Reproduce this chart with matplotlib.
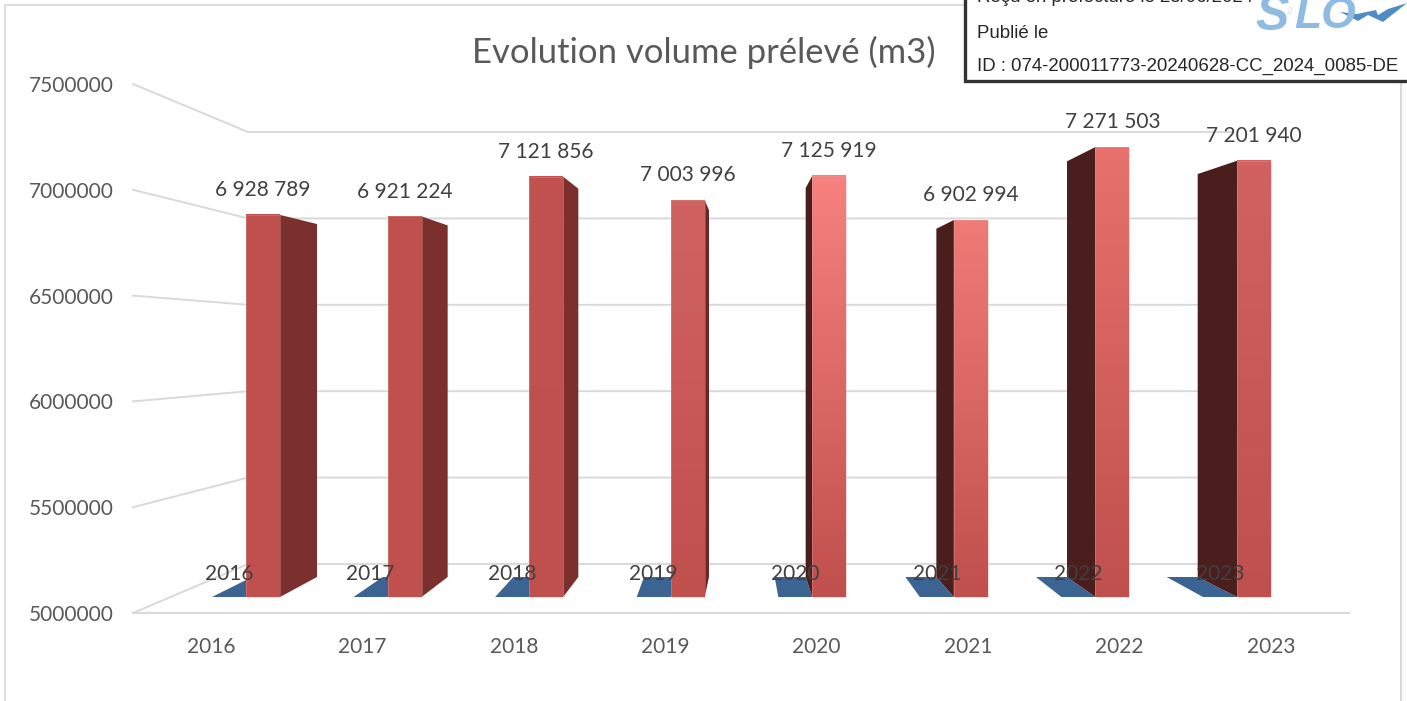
import matplotlib
matplotlib.use("Agg")
import matplotlib.pyplot as plt
import numpy as np
from matplotlib.colors import LinearSegmentedColormap
from matplotlib.patches import Polygon, Rectangle

years = ["2016", "2017", "2018", "2019", "2020", "2021", "2022", "2023"]
volumes = [6928789, 6921224, 7121856, 7003996, 7125919, 6902994, 7271503, 7201940]
y_ticks = [5000000, 5500000, 6000000, 6500000, 7000000, 7500000]

title = "Evolution volume prélevé (m3)"
stamp_lines = ["Reçu en préfecture le 28/06/2024", "Publié le",
               "ID : 074-200011773-20240628-CC_2024_0085-DE"]

# shading of each bar
top_colors = ["#C0504D", "#C0504D", "#C2524F", "#D0625F", "#F6817E", "#EF7B77", "#E6716D", "#D2625F"]
side_colors = ["#7B302E", "#7B302E", "#7B302E", "#66282A", "#4A1E1C", "#4A1E1C", "#4A1E1C", "#4A1E1C"]
BOTTOM_COLOR = "#C0504D"
BLUE = "#3B6493"
GRID = "#D9D9D9"
TXT = "#595959"
LBL = "#404040"

W, H = 1407, 701
# bar plane in pixels
STEP = 141.57
X0 = 246.0
BASE_Y = 597.0
PX_PER_UNIT = 198.1e-6
BAR_W = 34 / STEP
BACK_W = 31 / STEP
BACK_LIFT = 20 / PX_PER_UNIT      # back of the bars sits 20 px up on the floor
BACK_SCALE = 183.0 / 198.1        # and is a little shorter


def depth(i):
    # the side faces swing from right to left across the chart
    return (37 - 10.9 * i) / STEP


fig = plt.figure(figsize=(W / 100, H / 100), dpi=100, facecolor="white")
plt.rcParams["font.family"] = ["Lato", "DejaVu Sans"]

# pixel layer for walls and frame
bg = fig.add_axes([0, 0, 1, 1], zorder=0)
bg.set_xlim(0, W)
bg.set_ylim(H, 0)
bg.axis("off")
bg.plot([5, 5, 965], [H, 5, 5], color=GRID, lw=1.3)
bg.plot([1401, 1401], [80, H], color=GRID, lw=1.5)

for t in y_ticks:
    k = (t - y_ticks[0]) / (y_ticks[-1] - y_ticks[0])
    front_y = 613 - 529 * k
    back_y = 564 - 432 * k
    bg.plot([133, 248, 1232], [front_y, back_y, back_y], color=GRID, lw=1.4, solid_joinstyle="miter")

bg.text(703.5, 52, title, ha="center", va="center", fontsize=24.95, color=TXT)

# front plane: carries the tick labels
front = fig.add_axes([133 / W, 1 - 613 / H, (1349 - 133) / W, 529 / H], zorder=1)
front.patch.set_alpha(0)
front.set_xlim((133 - 211) / 151.4, (1349 - 211) / 151.4)
front.set_ylim(y_ticks[0], y_ticks[-1])
front.set_xticks(range(len(years)), years)
front.set_yticks(y_ticks, [str(t) for t in y_ticks])
front.tick_params(axis="both", length=0, labelsize=15, labelcolor=TXT)
front.tick_params(axis="x", pad=17.5)
front.tick_params(axis="y", pad=14)
for name, sp in front.spines.items():
    sp.set_visible(name == "bottom")
front.spines["bottom"].set_color(GRID)
front.spines["bottom"].set_linewidth(1.5)

# bar plane
ax = fig.add_axes([0, 0, 1, 1], zorder=2)
ax.patch.set_alpha(0)
ax.axis("off")

for i, v in enumerate(volumes):
    d = depth(i)
    back_base = y_ticks[0] + BACK_LIFT
    back_top = y_ticks[0] + BACK_LIFT + (v - y_ticks[0]) * BACK_SCALE

    # flat blue series
    ax.add_patch(Polygon([(i - BAR_W, y_ticks[0]), (i, y_ticks[0]), (i + d, back_base), (i - BACK_W + d, back_base)],
                         facecolor=BLUE, edgecolor="none", zorder=2))

    # side face, on whichever side the depth goes
    edge = i + BAR_W if d > 0 else i
    ax.add_patch(Polygon([(edge, y_ticks[0]), (edge, v), (edge + d, back_top), (edge + d, back_base)],
                         facecolor=side_colors[i], edgecolor="none", zorder=3))

    # front face with its gradient
    cmap = LinearSegmentedColormap.from_list("f", [BOTTOM_COLOR, top_colors[i]])
    ax.imshow(np.linspace(1, 0, 64).reshape(-1, 1), cmap=cmap, vmin=0, vmax=1, aspect="auto",
              extent=(i, i + BAR_W, y_ticks[0], v), zorder=4)
    ax.add_patch(Rectangle((i, y_ticks[0]), BAR_W, v - y_ticks[0], fill=False,
                           edgecolor="#E3A09D", lw=0.4, alpha=0.6, zorder=5))

    ax.annotate(f"{v:,}".replace(",", " "), (i + BAR_W / 2, v), xytext=(0, 17.8), textcoords="offset points",
                ha="center", va="center", fontsize=15, color=LBL, zorder=7)
    ax.annotate(years[i], (i - BAR_W / 2, y_ticks[0]), xytext=(0, 16.6), textcoords="offset points",
                ha="center", va="center", fontsize=15, color=LBL, zorder=7)

ax.set_xlim(-X0 / STEP, (W - X0) / STEP)
ax.set_ylim(y_ticks[0] - (H - BASE_Y) / PX_PER_UNIT, y_ticks[0] + BASE_Y / PX_PER_UNIT)

# stamp box in the corner
top = fig.add_axes([0, 0, 1, 1], zorder=3)
top.patch.set_alpha(0)
top.set_xlim(0, W)
top.set_ylim(H, 0)
top.axis("off")
top.add_patch(Rectangle((965, -10), 460, 91, facecolor="white", edgecolor="#333333", lw=2.4))
for txt, y in zip(stamp_lines, [-3, 33, 66]):
    top.text(977, y, txt, ha="left", va="center", fontsize=13.45, color="#262626", family="Liberation Sans")

# S2LOW logo, the W is the swoosh
logo = dict(va="center", color="#8FBBE3", family="Liberation Sans", fontweight="bold", style="italic")
top.text(1255, 17, "S", ha="left", fontsize=36, **logo)
top.text(1287, 15, "²", ha="left", fontsize=13, va="center", color="#D5E5F4", family="Liberation Sans", zorder=5)
top.text(1294, 17, "LO", ha="left", fontsize=32, **logo)
top.add_patch(Polygon([(1340, 12), (1358, 21), (1368, 15), (1383, 22), (1407, 3), (1388, 9), (1378, 15),
                       (1376, 10), (1357, 14)], facecolor="#4F8CC4", edgecolor="none"))

fig.savefig("out.png", dpi=100)
